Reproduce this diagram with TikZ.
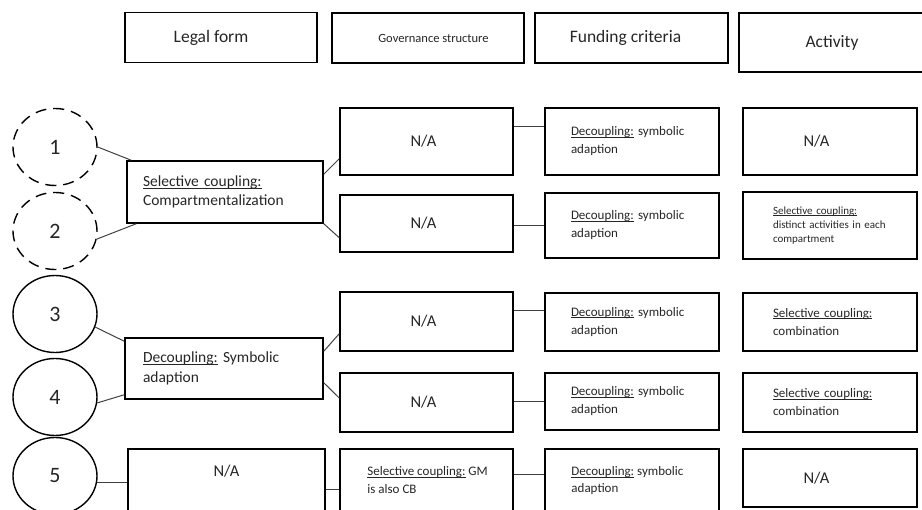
\documentclass[tikz,border=0pt]{standalone}
\usepackage{fontspec}
\setmainfont{Carlito}
\usetikzlibrary{shapes.geometric}
\newsavebox\ulbox
\newcommand{\uln}[1]{\sbox\ulbox{#1}\rlap{\rule[-0.13em]{\wd\ulbox}{0.065em}}\usebox\ulbox}
\tikzset{
  cell/.style={draw=black, line width=1.5pt, rectangle, inner sep=0pt, text=black!85},
  head/.style={cell, font=\fontsize{17.5}{21}\selectfont},
  na/.style={cell, font=\fontsize{16.5}{20}\selectfont},
  note/.style={cell, align=left, font=\fontsize{13}{18}\selectfont},
  ring/.style={draw=black, line width=1.4pt, ellipse, minimum width=84pt, minimum height=77pt,
    inner sep=0pt, text=black!85, font=\fontsize{22}{26}\selectfont},
  dring/.style={ring, dash pattern=on 11pt off 7pt},
}
\begin{document}
\begin{tikzpicture}[x=1pt, y=-1pt]
  \useasboundingbox (0,0) rectangle (922,510);
  \clip (0,0) rectangle (922,510);
  \draw
    (221,37.5) node[head, minimum width=192pt, minimum height=50pt] (hlegal){Legal form\hspace*{20pt}}
    (428,38) node[head, minimum width=192pt, minimum height=50pt, font=\fontsize{12.5}{15}\selectfont] (hgov){\hspace*{11pt}Governance structure}
    (631.5,38) node[head, minimum width=193pt, minimum height=50pt] (hfund){Funding criteria\hspace*{12pt}}
    (832,42.5) node[head, minimum width=186pt, minimum height=59pt] (hact){Activity}
    (55,147) node[dring] (c1){1}
    (55,231) node[dring] (c2){2}
    (55,314) node[ring] (c3){3}
    (55,397) node[ring] (c4){4}
    (55,476) node[ring] (c5){5}
    (225,192) node[note, inner xsep=16pt, text width=164pt, minimum height=62pt, font=\fontsize{15.5}{19}\selectfont] (sel){\uln{Selective coupling:}\\Compartmentalization}
    (224,368.5) node[note, inner xsep=18pt, text width=162pt, minimum height=61pt, font=\fontsize{15.5}{20}\selectfont] (dec){\uln{Decoupling:} Symbolic\\adaption}
    (226.5,490) node[cell, minimum width=197pt, minimum height=82pt,
      label={[anchor=center, yshift=-23pt, text=black!85, font=\fontsize{16.5}{20}\selectfont]north:N/A}] (l5){}
    (426.5,141.5) node[na, minimum width=173pt, minimum height=67pt] (g1){N/A\hspace*{6pt}}
    (426.5,223.5) node[na, minimum width=173pt, minimum height=57pt] (g2){N/A\hspace*{6pt}}
    (426.5,321.5) node[na, minimum width=173pt, minimum height=59pt] (g3){N/A\hspace*{6pt}}
    (426.5,402.5) node[na, minimum width=173pt, minimum height=59pt] (g4){N/A\hspace*{6pt}}
    (426.5,490) node[cell, minimum width=173pt, minimum height=82pt,
      label={[anchor=north west, inner sep=0pt, xshift=28pt, yshift=-18.5pt, align=left, text=black!85,
        font=\fontsize{13}{18}\selectfont]north west:\uln{Selective coupling:} GM\\is also CB}] (g5){}
    (632,141.5) node[note, inner xsep=26pt, text width=122pt, minimum height=67pt] (f1){\uln{Decoupling:} symbolic\\adaption}
    (632,225.5) node[note, inner xsep=26pt, text width=122pt, minimum height=65pt] (f2){\uln{Decoupling:} symbolic\\adaption}
    (632,322) node[note, inner xsep=26pt, text width=122pt, minimum height=58pt] (f3){\uln{Decoupling:} symbolic\\adaption}
    (632,401.5) node[note, inner xsep=26pt, text width=122pt, minimum height=57pt] (f4){\uln{Decoupling:} symbolic\\adaption}
    (632,490) node[cell, minimum width=174pt, minimum height=82pt,
      label={[anchor=north west, inner sep=0pt, xshift=27pt, yshift=-18.5pt, align=left, text=black!85,
        font=\fontsize{13}{17}\selectfont]north west:\uln{Decoupling:} symbolic\\adaption}] (f5){}
    (830,141.5) node[na, minimum width=174pt, minimum height=67pt] (a1){N/A\hspace*{27pt}}
    (830,225.5) node[note, inner xsep=30pt, text width=114pt, minimum height=67pt, font=\fontsize{11}{14}\selectfont] (a2){\uln{Selective coupling:}\\distinct activities in each\\compartment}
    (830,322) node[note, inner xsep=30pt, text width=114pt, minimum height=58pt] (a3){\uln{Selective coupling:}\\combination}
    (830,402.5) node[note, inner xsep=30pt, text width=114pt, minimum height=59pt] (a4){\uln{Selective coupling:}\\combination}
    (830,478) node[na, minimum width=174pt, minimum height=58pt] (a5){N/A\hspace*{27pt}};
  \begin{scope}[draw=black!75, line width=1pt]
    \draw (c1.east) to ([xshift=5pt]sel.north west);
    \draw (c2.-11) to ([xshift=10pt]sel.south west);
    \draw ([yshift=-14pt]sel.north east) to ([yshift=17pt]g1.south west);
    \draw (sel.south east) to ([yshift=15pt]g2.south west);
    \draw ([yshift=14.5pt]g1.east) to ([yshift=14.5pt]f1.west);
    \draw (g2.east |- f2.west) to (f2.west);
    \draw (c3.-18) to ([yshift=-4pt]dec.north west);
    \draw (c4.-8) to ([yshift=5pt]dec.south west);
    \draw ([yshift=-14pt]dec.north east) to ([yshift=18pt]g3.south west);
    \draw ([yshift=17pt]dec.south east) to ([yshift=4.5pt]g4.west);
    \draw ([yshift=10.5pt]g3.east) to ([yshift=10.5pt]g3.east -| f3.west);
    \draw (g4.east |- f4.west) to (f4.west);
    \draw (c5.-9) to (c5.-9 -| l5.west);
    \draw (l5.east) to (l5.east -| g5.west);
    \draw ([yshift=15pt]g5.east) to ([yshift=15pt]f5.west);
  \end{scope}
\end{tikzpicture}
\end{document}
